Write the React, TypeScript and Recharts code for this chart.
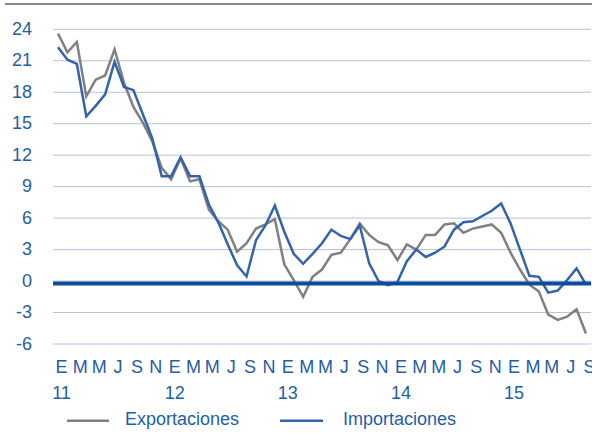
import React from 'react';
import { LineChart, Line, XAxis, YAxis, CartesianGrid, ReferenceLine, Legend } from 'recharts';

const MONTHS = ['E', 'F', 'M', 'A', 'M', 'J', 'J', 'A', 'S', 'O', 'N', 'D'];
const YEARS = ['11', '12', '13', '14', '15'];
const Y_TICKS = [-6, -3, 0, 3, 6, 9, 12, 15, 18, 21, 24];

const EXPORTACIONES = [
  23.6, 21.8, 22.8, 17.6, 19.2, 19.6, 22.1, 18.9, 16.6, 15.1, 13.3, 10.8,
  9.7, 11.7, 9.5, 9.7, 6.8, 5.7, 4.9, 2.8, 3.6, 5.0, 5.4, 5.9,
  1.6, 0.1, -1.5, 0.4, 1.1, 2.5, 2.7, 4.0, 5.5, 4.4, 3.7, 3.4,
  2.0, 3.5, 3.0, 4.4, 4.4, 5.4, 5.5, 4.6, 5.0, 5.2, 5.4, 4.6,
  2.7, 1.1, -0.35, -1.0, -3.2, -3.7, -3.4, -2.7, -5.0,
];

const IMPORTACIONES = [
  22.3, 21.1, 20.7, 15.7, 16.7, 17.8, 20.9, 18.5, 18.2, 15.9, 13.6, 10.0,
  10.0, 11.8, 10.0, 10.0, 7.3, 5.6, 3.5, 1.5, 0.44, 3.9, 5.3, 7.2,
  4.7, 2.6, 1.65, 2.6, 3.6, 4.9, 4.3, 4.0, 5.3, 1.7, 0.0, -0.4,
  -0.1, 1.9, 3.0, 2.3, 2.7, 3.3, 4.9, 5.6, 5.7, 6.2, 6.7, 7.4,
  5.5, 3.0, 0.5, 0.4, -1.1, -0.9, 0.1, 1.2, -0.35,
];

const SERIES_NAMES = ['Exportaciones', 'Importaciones'];

const data = EXPORTACIONES.map((v, i) => ({
  idx: i,
  month: MONTHS[i % 12],
  year: i % 12 === 0 ? YEARS[Math.floor(i / 12)] : '',
  exp: v,
  imp: IMPORTACIONES[i],
}));

const TEXT_BLUE = '#1f5ea8';
const GRAY = '#808080';
const BLUE = '#3363ad';
const DARK_BLUE = '#0c4e96';
const FONT = '"Liberation Sans", Arial, sans-serif';

const XTick = (props: any) => {
  const { x, y, payload } = props;
  const d = data[payload.value];
  if (!d || d.idx % 2 !== 0) return <g />;
  return (
    <g>
      <text x={x + 3.5} y={y + 28.5} textAnchor="middle" fill={TEXT_BLUE} fontSize={18} fontFamily={FONT}>
        {d.month}
      </text>
      {d.year ? (
        <text x={x + 3.5} y={y + 54.5} textAnchor="middle" fill={TEXT_BLUE} fontSize={18} fontFamily={FONT}>
          {d.year}
        </text>
      ) : null}
    </g>
  );
};

const YTick = (props: any) => {
  const { x, y, payload } = props;
  return (
    <text x={x} y={y + 5.5} textAnchor="end" fill={TEXT_BLUE} fontSize={18} fontFamily={FONT}>
      {payload.value}
    </text>
  );
};

const LegendContent = () => (
  <svg width={592} height={30} style={{ display: 'block' }}>
    <line x1={67} y1={16.7} x2={109} y2={16.7} stroke={GRAY} strokeWidth={2.5} />
    <text x={125} y={21} fill={TEXT_BLUE} fontSize={18} fontFamily={FONT}>{SERIES_NAMES[0]}</text>
    <line x1={280} y1={16.7} x2={323} y2={16.7} stroke={BLUE} strokeWidth={2.5} />
    <text x={343} y={21} fill={TEXT_BLUE} fontSize={18} fontFamily={FONT}>{SERIES_NAMES[1]}</text>
  </svg>
);

const ZeroShape = (p: any) => (
  <line x1={p.x1} y1={p.y1 + 2.5} x2={p.x2} y2={p.y2 + 2.5} stroke={DARK_BLUE} strokeWidth={4} />
);

export default function App() {
  return (
    <div style={{ position: 'absolute', left: 0, top: 0, width: 592, height: 434, background: '#fff' }}>
      <div style={{ height: 3, marginLeft: 5, borderBottom: '2px solid #8a8a8a' }} />
      <LineChart width={592} height={429} data={data} margin={{ top: 24.3, right: 1, bottom: 0, left: 0 }}>
        <CartesianGrid horizontal vertical={false} stroke="#b4c2e0" strokeWidth={1} />
        <XAxis
          dataKey="idx"
          type="category"
          interval={0}
          axisLine={false}
          tickLine={false}
          tickSize={0}
          tickMargin={0}
          height={60}
          padding={{ left: 5, right: 5 }}
          tick={XTick}
        />
        <YAxis
          domain={[-6, 24]}
          ticks={Y_TICKS}
          interval={0}
          axisLine={false}
          tickLine={false}
          tickSize={0}
          tickMargin={21}
          width={53}
          tick={YTick}
        />
        <Line dataKey="exp" name={SERIES_NAMES[0]} stroke={GRAY} strokeWidth={2.5} dot={false} isAnimationActive={false} />
        <Line dataKey="imp" name={SERIES_NAMES[1]} stroke={BLUE} strokeWidth={2.5} dot={false} isAnimationActive={false} />
        <ReferenceLine y={0} shape={ZeroShape} />
        <Legend verticalAlign="bottom" height={30} content={LegendContent} wrapperStyle={{ left: 0, bottom: 0, width: 592, height: 30 }} />
      </LineChart>
    </div>
  );
}
